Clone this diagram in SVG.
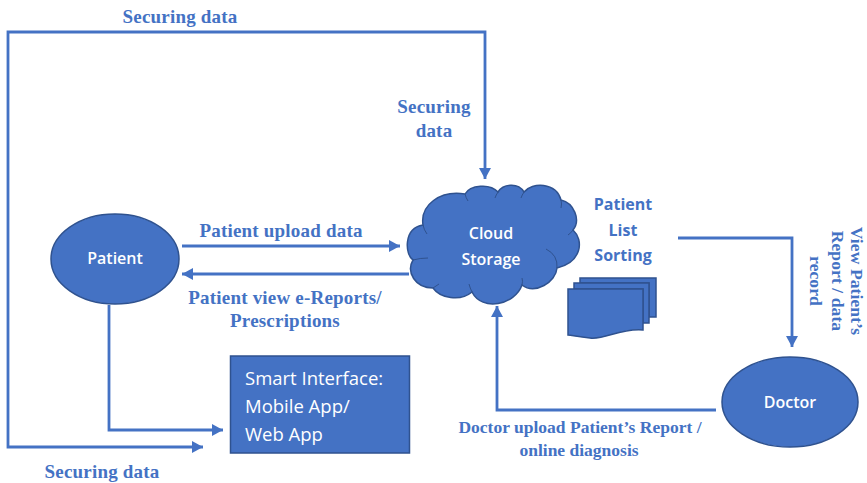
<svg xmlns="http://www.w3.org/2000/svg" width="867" height="483" viewBox="0 0 867 483">
<style>
.c{fill:none;stroke:#4472c4;stroke-width:2.800}
.n{fill:#4472c4;stroke:#2f528f;stroke-width:1.5}
.l{font-family:"Liberation Serif",serif;font-weight:700;font-size:19px;letter-spacing:.2px;fill:#4472c4;text-anchor:middle}
.t{font-size:17.500px;letter-spacing:0}
.v{font-size:17.500px;letter-spacing:.1px}
.w{font-family:"Open Sans","Noto Sans",sans-serif;font-weight:600;font-size:16px;fill:#fff;text-anchor:middle}
.s{font-family:"Open Sans","Noto Sans",sans-serif;font-size:18.500px;fill:#fff}
.b{font-family:"Open Sans","Noto Sans",sans-serif;font-weight:700;font-size:16px;fill:#4472c4;text-anchor:middle}
</style>
<defs><marker id="a" markerUnits="userSpaceOnUse" markerWidth="12" markerHeight="12" refX="11" refY="6" orient="auto-start-reverse"><path d="M0 0L11 6L0 12Z" fill="#4472c4"/></marker></defs>
<g id="connectors">
<path class="c" d="M203 447H8V32H485V179" marker-start="url(#a)" marker-end="url(#a)"/>
<path class="c" d="M182 246H400" marker-end="url(#a)"/>
<path class="c" d="M409 274H182" marker-end="url(#a)"/>
<path class="c" d="M109 305V430H223" marker-end="url(#a)"/>
<path class="c" d="M678 238H792V347" marker-end="url(#a)"/>
<path class="c" d="M716 410H497V306" marker-end="url(#a)"/>
</g>
<g id="patient"><ellipse class="n" cx="115" cy="259" rx="64" ry="45"/><text class="w" x="115" y="264">Patient</text></g>
<g id="doctor"><ellipse class="n" cx="790" cy="402" rx="68" ry="45"/><text class="w" x="790" y="408">Doctor</text></g>
<g id="smart-interface"><rect class="n" x="230.500" y="356" width="179" height="97"/>
<text class="s" x="245" y="385">Smart Interface:</text><text class="s" x="245" y="413">Mobile App/</text><text class="s" x="245" y="441">Web App</text></g>
<g id="cloud-storage">
<path class="n" d="M423 225C420 205 440 190 465 194C470 185 490 183 498 192C503 184 518 182 524 192C532 182 556 182 561 200C574 203 581 220 573 230C584 240 582 262 557 268C556 282 535 295 522 285C515 305 482 312 472 292C460 302 440 298 433 288C415 288 406 272 413 260C405 255 403 228 423 225Z"/>
<path fill="none" stroke="#2f528f" stroke-width="1" d="M413 260Q420 258 428 258M423 225Q424 230 427 234M465 194Q466 198 468 201M498 192Q496 195 495 198M524 192Q522 195 521 198M561 200Q562 204 561 208M573 230Q571 233 568 235M557 268Q558 255 546 249M522 285Q523 281 522 278M472 292Q470 288 469 284M433 288Q436 286 439 284"/>
<text class="w" x="491" y="239">Cloud</text><text class="w" x="491" y="265">Storage</text></g>
<g id="patient-list"><path class="n" d="M580 283V278H656V317H649V283Z"/><path class="n" d="M574 289V283H649V323H643V289Z"/><path class="n" d="M568 289H643V330C620 328 605 340 590 338C580 337 575 336 568 335Z"/></g>
<g id="labels">
<text class="l" x="180" y="23">Securing data</text>
<text class="l" x="434" y="113">Securing</text><text class="l" x="434" y="137">data</text>
<text class="l" x="281" y="237">Patient upload data</text>
<text class="l" x="285" y="304">Patient view e-Reports/</text><text class="l" x="285" y="327">Prescriptions</text>
<text class="b" x="623" y="210">Patient</text><text class="b" x="623" y="236">List</text><text class="b" x="623" y="261">Sorting</text>
<text class="l v" transform="translate(851 281) rotate(90)">View Patient’s</text>
<text class="l v" transform="translate(832 281) rotate(90)">Report / data</text>
<text class="l v" transform="translate(810 281) rotate(90)">record</text>
<text class="l t" x="580" y="433">Doctor upload Patient’s Report /</text><text class="l t" x="579" y="456">online diagnosis</text>
<text class="l" x="102" y="478">Securing data</text>
</g>
</svg>
